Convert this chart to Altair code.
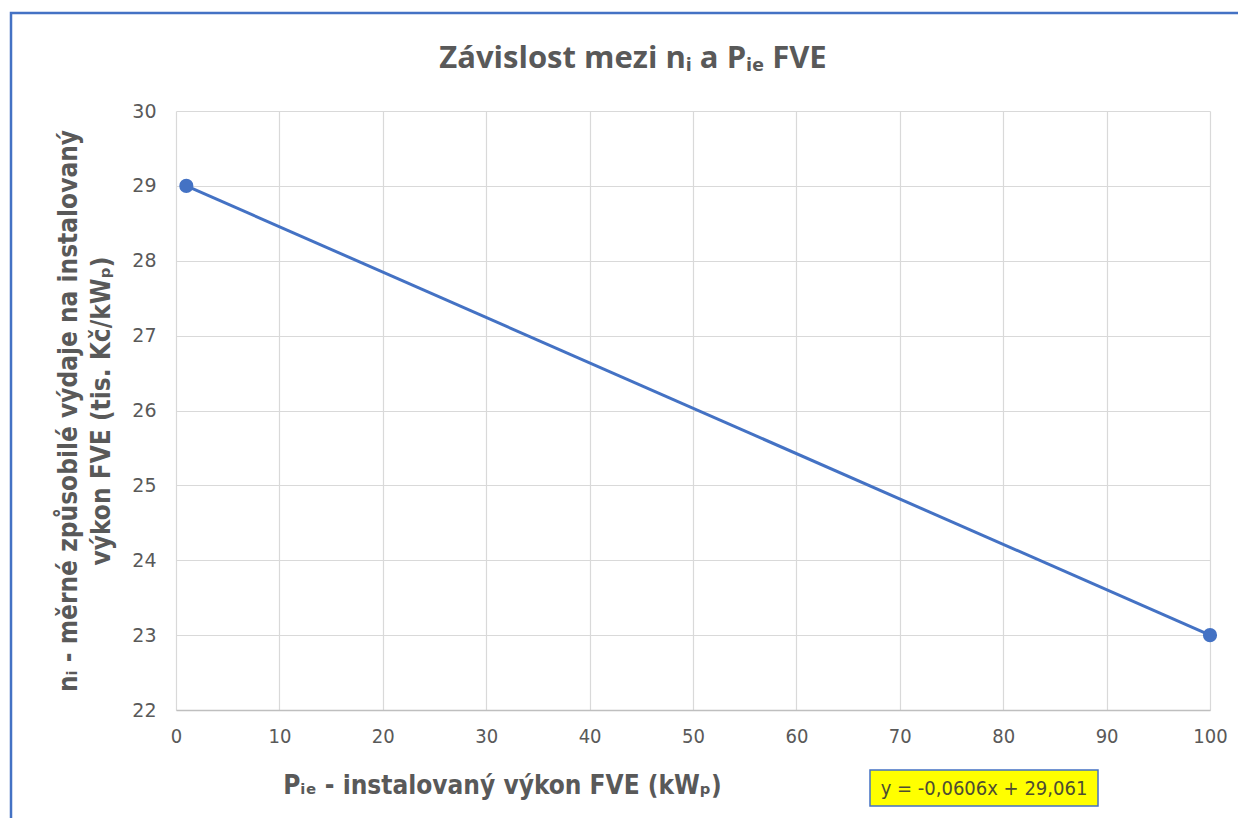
import altair as alt
import pandas as pd

# ---- data ----
P_IE = [1, 100]          # installed power (kWp)
N_I = [29, 23]           # specific eligible expenditure (thousand CZK / kWp)
X_TICKS = [0, 10, 20, 30, 40, 50, 60, 70, 80, 90, 100]
Y_TICKS = [22, 23, 24, 25, 26, 27, 28, 29, 30]
TITLE = ["Závislost mezi nᵢ a Pᵢₑ FVE"]
X_TITLE = "Pᵢₑ - instalovaný výkon FVE (kWₚ)"
Y_TITLE = ["nᵢ - měrné způsobilé výdaje na instalovaný", "výkon FVE (tis. Kč/kWₚ)"]
EQUATION = ["y = -0,0606x + 29,061"]

BLUE = "#4472C4"
GREY = "#595959"
NARROW = "'Liberation Sans Narrow', 'DejaVu Sans Condensed', 'Liberation Sans', sans-serif"
WIDE = "'DejaVu Sans', Verdana, sans-serif"
BOLD = "'Open Sans', 'Noto Sans', sans-serif"

W, H = 1034, 599

df = pd.DataFrame({"P": P_IE, "n": N_I})

x_enc = alt.X(
    "P:Q",
    scale=alt.Scale(domain=[0, 100], nice=False),
    axis=alt.Axis(
        values=X_TICKS, format="d", title=X_TITLE,
        labelFont=NARROW, labelFontSize=20, labelColor=GREY, labelPadding=16,
        labelFlush=False,
        ticks=False, domain=True, domainColor="#BFBFBF", domainWidth=1.5,
        grid=True, gridColor="#D9D9D9", gridWidth=1.2,
        titleFont=NARROW, titleFontSize=26, titleFontWeight="bold", titleColor=GREY,
        titleX=326, titleY=75, titleBaseline="middle", titleAlign="center",
    ),
)
y_enc = alt.Y(
    "n:Q",
    scale=alt.Scale(domain=[22, 30], nice=False, zero=False),
    axis=alt.Axis(
        values=Y_TICKS, format="d", title=Y_TITLE,
        labelFont=WIDE, labelFontSize=19, labelColor=GREY, labelPadding=20,
        labelFlush=False,
        ticks=False, domain=False,
        grid=True, gridColor="#D9D9D9", gridWidth=1.2,
        titleFont=NARROW, titleFontSize=26, titleFontWeight="bold", titleColor=GREY,
        titleLineHeight=33, titlePadding=17,
    ),
)

base = alt.Chart(df).encode(x=x_enc, y=y_enc)
line = base.mark_line(color=BLUE, strokeWidth=3)
points = base.mark_point(filled=True, shape="circle", size=200, color=BLUE, opacity=1)

one = pd.DataFrame({"t": TITLE})
border = alt.Chart(one).mark_rect(
    fill="white", fillOpacity=0, stroke=BLUE, strokeWidth=2.5
).encode(x=alt.value(-165), x2=alt.value(1120), y=alt.value(-98), y2=alt.value(760))

title = alt.Chart(one).mark_text(
    font=BOLD, fontSize=31, fontWeight="bold", color=GREY, align="center", baseline="middle"
).encode(text="t:N", x=alt.value(457), y=alt.value(-52))

eq = pd.DataFrame({"e": EQUATION})
eq_box = alt.Chart(eq).mark_rect(
    fill="#FFFF00", stroke=BLUE, strokeWidth=1.5
).encode(x=alt.value(694), x2=alt.value(922), y=alt.value(659), y2=alt.value(695))
eq_text = alt.Chart(eq).mark_text(
    font=NARROW, fontSize=20, color="#4D4D33", align="center", baseline="middle"
).encode(text="e:N", x=alt.value(808), y=alt.value(678))

chart = alt.layer(border, line, points, title, eq_box, eq_text).properties(
    width=W, height=H,
    autosize=alt.AutoSizeParams(type="none"),
    padding={"left": 168, "top": 103, "right": 28, "bottom": 108},
).configure_view(strokeWidth=0)

chart.save("out.html", embed_options={"renderer": "svg", "actions": False})
